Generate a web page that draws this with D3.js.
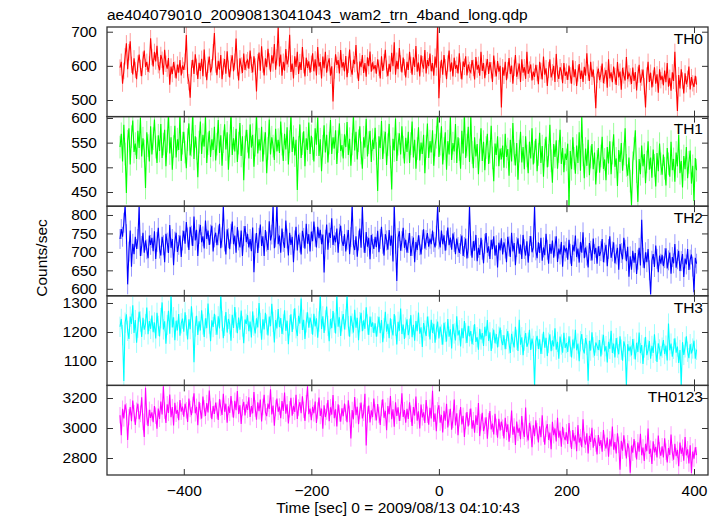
<!DOCTYPE html>
<html><head><meta charset="utf-8">
<script src="https://cdn.jsdelivr.net/npm/d3@7"></script>
<style>
body{margin:0;background:#fff}
svg{display:block}
text{font-family:"Liberation Sans",Arial,Helvetica,sans-serif;fill:#000}
</style></head><body>
<svg id="chart" width="718" height="516"></svg>
<script>
// ---------------- data ----------------
const title = "ae404079010_20090813041043_wam2_trn_4band_long.qdp";
const xLabel = "Time [sec] 0 = 2009/08/13 04:10:43";
const yLabel = "Counts/sec";
const bandNames = ["TH0", "TH1", "TH2", "TH3", "TH0123"];
const tStart = -500, tStep = 2;   // bin start time and bin width [sec]

const th0 = [
595,612,548,585,628,666,590,640,672,603,575,622,588,561,607,633,594,570,618,645,597,612,582,604,681,
626,598,641,613,659,602,587,632,618,574,647,606,592,623,545,598,576,611,589,563,604,580,617,572,601,
588,612,690,571,552,507,593,618,576,634,597,562,609,585,621,570,648,592,558,603,627,581,596,640,696,
604,573,615,589,632,561,598,620,577,643,592,566,608,631,584,612,680,595,557,622,601,579,636,588,610,
617,592,645,603,581,628,598,525,611,639,586,657,604,572,622,596,650,613,583,631,607,664,589,625,712,
598,633,571,612,586,649,604,620,691,582,607,563,628,597,641,576,611,588,655,602,569,624,594,613,580,
606,637,584,619,572,655,598,611,563,627,593,641,580,608,622,571,599,496,586,634,603,617,578,646,595,
611,584,629,567,603,648,592,574,618,605,661,587,556,613,596,632,579,608,568,625,599,642,583,610,590,
602,577,619,594,563,628,585,611,647,592,570,606,583,638,599,669,574,615,590,652,607,581,624,596,566,
612,588,641,603,574,625,597,658,583,610,569,631,605,592,646,578,617,599,636,584,608,571,627,595,722,
505,589,618,574,632,596,561,607,645,583,610,569,624,591,603,578,637,586,560,613,597,628,572,604,588,
581,617,594,560,626,589,603,571,641,585,608,564,597,620,576,611,587,553,630,592,569,614,583,600,478,
596,571,612,558,587,623,576,601,548,594,632,568,585,607,553,619,580,596,562,641,577,589,604,557,583,
568,603,579,546,612,585,560,627,574,593,541,588,619,566,581,600,553,635,577,562,596,584,549,608,571,
583,559,601,572,548,616,567,590,541,578,605,562,586,553,597,571,637,580,556,612,568,589,545,476,574,
592,558,576,607,549,571,588,536,619,563,581,552,598,570,544,611,566,583,530,594,572,557,626,561,578,
569,547,595,556,582,528,574,603,551,566,589,540,478,572,612,553,580,537,563,596,548,575,521,590,558,
571,543,586,552,608,539,565,527,581,556,641,548,468,573,534,590,557,519,578,546,562,598,531,567,549,
538,571,545];

const th1 = [
541,568,512,586,527,448,553,579,506,562,595,531,548,517,574,539,601,522,559,533,458,571,544,512,583,
526,558,597,541,509,565,533,588,519,547,576,502,553,610,528,561,495,542,584,520,557,535,606,513,549,
572,531,498,556,589,524,545,611,517,563,538,480,551,593,527,566,542,604,509,548,574,521,557,535,582,
514,547,596,529,565,503,552,587,536,571,495,544,613,525,559,532,578,511,549,590,523,563,474,541,576,
553,518,587,540,566,501,545,609,528,557,534,582,512,549,571,488,538,597,526,561,543,515,578,532,556,
529,593,547,513,568,536,581,506,552,605,531,562,524,556,454,540,587,519,548,573,502,559,535,591,527,
564,538,512,579,546,601,523,557,492,543,585,530,566,510,549,596,527,561,538,575,507,552,589,533,545,
518,567,541,592,525,558,503,547,606,534,572,516,554,583,529,497,561,540,598,522,550,574,511,556,537,
580,528,452,563,539,594,517,551,572,505,546,588,521,455,558,534,599,513,547,569,526,583,541,508,560,
531,572,509,548,593,520,556,497,538,581,514,550,527,566,488,542,589,519,553,530,575,503,545,561,612,
521,547,583,506,538,571,495,553,526,604,515,549,532,588,509,561,536,497,574,528,610,519,545,582,511,
603,530,498,561,522,547,486,535,579,513,552,494,540,568,507,531,584,519,472,548,525,563,502,538,516,
544,499,568,521,537,483,556,512,590,527,504,549,475,533,572,510,541,496,563,523,488,552,518,579,506,
531,558,492,526,570,509,543,481,535,562,500,524,586,513,469,547,521,555,497,532,576,507,539,490,528,
515,548,421,533,496,561,518,487,544,509,571,493,602,525,478,538,503,556,484,521,547,496,530,465,512,
539,489,523,562,497,516,474,541,508,553,486,529,567,501,518,462,535,511,549,493,527,579,504,483,520,
472,423,509,538,575,491,430,517,486,544,502,527,468,511,553,495,520,479,536,504,461,529,492,548,507,
485,526,498,463,539,507,481,552,494,517,471,530,502,566,488,513,459,523,496,541,478,510,534,467,503,
432,519,494];

const th2 = [
735,762,741,779,826,748,612,701,758,660,722,694,741,708,735,823,689,716,752,698,731,707,683,744,719,
738,702,756,681,727,765,709,690,741,718,672,749,725,697,773,711,735,664,728,752,700,719,744,686,731,
757,722,781,739,705,768,744,716,796,731,760,689,748,773,726,742,709,785,735,758,719,747,771,701,739,
752,718,745,776,710,739,825,728,693,761,737,707,749,782,721,744,698,767,731,712,758,689,743,770,726,
749,712,735,702,766,645,723,751,697,738,774,716,742,689,759,728,705,783,731,747,824,710,739,828,721,
744,698,763,727,711,785,736,690,752,719,741,672,731,768,704,747,725,693,757,738,709,776,722,748,701,
755,729,782,741,712,768,737,760,721,747,644,733,774,706,752,738,791,719,744,726,763,698,749,771,730,
716,748,701,733,759,694,740,827,719,705,742,687,731,763,711,824,725,697,754,714,738,680,746,722,708,
741,713,757,699,735,768,722,690,748,731,706,759,717,744,674,826,722,621,738,756,703,729,765,711,733,
698,724,751,689,716,739,672,727,705,745,718,693,733,761,709,732,751,714,736,721,758,727,712,744,825,
734,712,758,721,745,703,731,766,718,739,706,750,727,694,736,713,697,721,744,689,713,736,682,710,826,
717,684,729,703,746,675,711,692,738,706,669,722,751,698,715,681,733,707,742,690,718,658,725,704,737,
693,726,709,672,741,715,686,752,701,724,664,713,737,695,720,681,746,708,690,729,671,716,743,699,712,
825,704,683,726,697,738,676,712,691,749,706,668,721,695,731,684,715,742,673,709,693,727,660,718,701,
711,679,733,695,662,719,701,744,686,709,671,727,698,753,683,712,690,658,724,703,677,736,694,711,668,
715,689,702,735,672,698,719,661,708,742,684,701,726,669,693,711,652,721,697,680,738,706,675,714,633,
688,652,703,671,697,640,679,711,663,787,684,656,699,672,708,650,585,676,694,659,717,681,645,690,668,
692,661,683,710,655,677,698,641,686,669,721,657,680,703,648,675,694,632,682,666,708,651,679,693,660,
591,684,668];

const th3 = [
1218,1245,1189,1031,1232,1261,1204,1176,1253,1228,1292,1197,1241,1163,1215,1270,1236,1183,1249,1208,1227,1284,1192,1238,1211,
1257,1199,1233,1178,1266,1221,1185,1248,1302,1209,1237,1160,1224,1273,1194,1328,1216,1251,1172,1239,1205,1262,1187,1230,1246,
1201,1268,1223,1174,1244,1210,1289,1232,1096,1219,1256,1190,1237,1205,1275,1226,1183,1247,1213,1298,1229,1168,1240,1217,1263,
1225,1191,1254,1212,1330,1238,1179,1221,1269,1198,1245,1227,1170,1259,1214,1286,1233,1196,1250,1208,1274,1219,1161,1243,1228,
1258,1203,1236,1181,1271,1222,1195,1247,1216,1300,1231,1173,1244,1209,1266,1226,1188,1253,1220,1297,1235,1164,1241,1212,1279,
1217,1248,1193,1226,1275,1204,1239,1158,1223,1261,1200,1244,1282,1213,1186,1256,1229,1315,1207,1242,1176,1233,1268,1215,1250,
1228,1191,1263,1219,1247,1180,1236,1329,1210,1254,1197,1240,1288,1221,1168,1245,1213,1272,1232,1195,1326,1218,1251,1186,1237,
1262,1209,1243,1326,1220,1184,1256,1229,1198,1277,1215,1249,1172,1234,1266,1203,1240,1211,1285,1226,1190,1253,1218,1233,1197,
1230,1184,1219,1252,1196,1241,1165,1213,1270,1201,1228,1179,1247,1210,1188,1262,1222,1157,1235,1204,1281,1193,1226,1176,1215,
1244,1189,1211,1258,1182,1225,1170,1238,1203,1267,1194,1216,1148,1231,1205,1186,1253,1219,1174,1242,1197,1228,1163,1209,1236,
1178,1219,1191,1156,1232,1200,1167,1245,1184,1209,1143,1227,1195,1171,1254,1188,1206,1150,1213,1179,1238,1196,1162,1221,1185,
1203,1158,1190,1227,1166,1182,1139,1211,1174,1196,1152,1218,1186,1241,1169,1199,1135,1178,1208,1161,1193,1147,1184,1215,1172,
1155,1189,1141,1176,1203,1160,1128,1194,1167,1147,1218,1173,1135,1242,1156,1182,1120,1170,1196,1149,1163,1208,1138,1177,1152,
1010,1168,1187,1142,1175,1124,1159,1201,1146,1180,1117,1163,1192,1134,1171,1150,1213,1139,1166,1108,1184,1157,1129,1197,1145,
1162,1131,1185,1150,1112,1174,1143,1208,1137,1160,1099,1168,1193,1141,1126,1179,1155,1032,1170,1136,1199,1147,1118,1164,1152,
1138,1172,1116,1157,1190,1133,1151,1095,1166,1142,1204,1128,1160,1112,1179,1146,1123,1185,1139,1101,1168,1149,1015,1158,1134,
1150,1119,1176,1142,1105,1163,1131,1198,1127,1155,1090,1146,1183,1120,1138,1169,1108,1152,1128,1192,1135,1097,1161,1140,1117,
1146,1172,1124,1153,1102,1229,1137,1160,1115,1142,1178,1129,1150,1093,1138,1016,1165,1121,1147,1185,1132,1110,1158,1126,1143,
1170,1108,1139];

const th0123 = [
3085,2952,3128,3064,3157,3110,2921,3072,3139,3046,3183,3098,3021,3115,3162,3058,3094,3205,3041,2940,3268,3076,3013,3121,3067,
3104,3038,3147,3082,2995,3129,3061,3176,3090,3278,3116,3034,3158,3101,3223,3072,3139,3017,3168,3095,3120,3052,3186,3109,3143,
3075,3162,3118,3041,3197,3127,3086,3154,3232,3098,3141,3019,3175,3112,3063,3209,3131,3080,3166,3104,3250,3123,3058,3147,3094,
3170,3116,3054,3192,3135,3087,3228,3109,3162,3035,3144,3101,3213,3126,3069,3181,3119,3246,3093,3152,3027,3137,3175,3084,3158,
3121,3204,3073,3146,3098,3239,3130,3055,3171,3112,3189,3043,3140,3221,3105,3079,3163,3127,3258,3091,3150,3016,3133,3197,3108,
3143,3066,3179,3114,3237,3096,3158,3031,3125,3201,3082,3148,3107,3222,3060,3136,3173,3099,3211,3121,3047,3165,3278,3092,3130,
3052,3141,3098,3176,3034,3117,3203,3080,3129,2996,3152,3073,3110,3187,3045,3138,3089,3220,3066,3124,3011,3158,3097,3042,3131,
3079,3163,3102,3038,3185,3094,2931,3120,3058,3207,3085,3142,3026,3113,3170,3064,3101,3228,2883,3090,3149,3037,3118,3073,3196,
3104,3050,3159,3087,3021,3133,3191,3068,3115,2985,3146,3092,3213,3059,3125,3008,3171,3081,3138,3047,3102,3232,3074,3119,3036,
3128,3061,3172,3095,3014,3140,3083,3209,3049,3112,2997,3156,3071,3104,3033,3187,3088,3022,3135,3064,3248,3041,3097,2978,3118,
3152,3036,3087,2971,3114,3049,3162,3003,3071,3128,2989,3055,3190,3017,3098,2952,3066,3139,3024,3081,2940,3047,3106,3011,3073,
3129,2995,3052,2968,3084,3021,3167,2946,3038,3102,2979,3015,3071,2928,3046,3113,2990,3029,2957,3094,3008,2936,3061,2983,3042,
3002,2931,3068,2974,3025,2908,2989,3117,2956,3010,2887,3043,2968,3001,2925,3079,2982,2941,3136,2963,2917,3034,2990,2872,3018,
2946,3051,2979,2903,3012,2938,3084,2961,2889,2995,3026,2920,2970,2858,3041,2952,2997,2911,3068,2935,2982,2876,3008,2944,2919,
2971,2894,3033,2926,2860,2987,2912,2951,2845,3019,2903,2938,2872,3058,2921,2889,2964,2830,2948,2907,3001,2868,2935,2897,2824,
2953,2881,2919,2842,2986,2901,2863,2937,2808,2924,2877,3010,2856,2906,2831,2965,2888,2722,2915,2849,2952,2870,2797,2898,2861,
2702,2883,2835,2927,2858,2790,2904,2842,2961,2819,2870,2781,2895,2846,2996,2828,2862,2760,2911,2837,2874,2803,2949,2851,2815,
2878,2804,2931,2842,2770,2866,2821,2957,2836,2789,2894,2812,2855,2745,2903,2828,2869,2782,2940,2817,2858,2763,2885,2701,2843,
2796,2872,2819];

const errors = [24, 23, 27, 35, 55];   // 1-sigma error per bin, per band
const xTickValues = [-400, -200, 0, 200, 400];
const yTickValues = [[500,600,700],[450,500,550,600],[600,650,700,750,800],[1100,1200,1300],[2800,3000,3200]];

// ---------------- layout / style ----------------
const series = [th0, th1, th2, th3, th0123];
const colors = ["#ff0000", "#00ff00", "#0000ff", "#00ffff", "#ff00ff"];
const yDomains = [[451.4,713.8],[421.2,602.8],[581,823.8],[1015.9,1324.8],[2686.7,3284]];
const minorSteps = [20, 10, 10, 20, 100];
const L = 107, R = 708, T = 27, B = 475;
const ph = (B - T) / series.length;
const FS = 15.5;
const axisColor = "#333";

const svg = d3.select("#chart");
const x = d3.scaleLinear().domain([-520.4, 421.95]).range([L, R]);
const xMinor = d3.range(-500, 401, 100);
const defs = svg.append("defs");

series.forEach((vals, i) => {
  const y0 = T + i * ph, y1 = y0 + ph;
  const y = d3.scaleLinear().domain(yDomains[i]).range([y1, y0]);
  const g = svg.append("g");
  defs.append("clipPath").attr("id", "clip" + i)
    .append("rect").attr("x", L).attr("y", y0).attr("width", R - L).attr("height", ph);

  const pts = vals.map((v, k) => ({t: tStart + k * tStep, v}));
  const e = errors[i];
  const plot = g.append("g").attr("clip-path", `url(#clip${i})`);
  // error bars
  plot.append("path")
    .attr("d", pts.map(p => `M${x(p.t).toFixed(2)},${y(p.v - e).toFixed(2)}V${y(p.v + e).toFixed(2)}`).join(""))
    .attr("stroke", colors[i]).attr("stroke-opacity", 0.4).attr("stroke-width", 1).attr("fill", "none");
  // data line
  plot.append("path")
    .attr("d", d3.line().x(p => x(p.t)).y(p => y(p.v))(pts))
    .attr("stroke", colors[i]).attr("stroke-width", 1.1).attr("fill", "none");

  // y axes
  const [d0, d1] = yDomains[i];
  const yMinor = d3.range(Math.ceil(d0 / minorSteps[i]) * minorSteps[i], d1, minorSteps[i]);
  const left = g.append("g").attr("transform", `translate(${L},0)`);
  left.call(d3.axisLeft(y).tickValues(yMinor).tickSizeInner(-3).tickSizeOuter(0).tickFormat(""));
  left.call(d3.axisLeft(y).tickValues(yTickValues[i]).tickSizeInner(-6).tickSizeOuter(0).tickPadding(10).tickFormat(d3.format("d")));
  const right = g.append("g").attr("transform", `translate(${R},0)`);
  right.call(d3.axisRight(y).tickValues(yMinor).tickSizeInner(-3).tickSizeOuter(0).tickFormat(""));
  right.call(d3.axisRight(y).tickValues(yTickValues[i]).tickSizeInner(-6).tickSizeOuter(0).tickFormat(""));
  // x axes (top and bottom of each panel)
  const top = g.append("g").attr("transform", `translate(0,${y0})`);
  top.call(d3.axisTop(x).tickValues(xMinor).tickSizeInner(-4).tickSizeOuter(0).tickFormat(""));
  top.call(d3.axisTop(x).tickValues(xTickValues).tickSizeInner(-6).tickSizeOuter(0).tickFormat(""));
  const bot = g.append("g").attr("transform", `translate(0,${y1})`);
  bot.call(d3.axisBottom(x).tickValues(xMinor).tickSizeInner(-4).tickSizeOuter(0).tickFormat(""));
  bot.call(d3.axisBottom(x).tickValues(xTickValues).tickSizeInner(-6).tickSizeOuter(0).tickPadding(10)
    .tickFormat(i === series.length - 1 ? (d => d < 0 ? "\u2212" + Math.abs(d) : String(d)) : ""));

  g.selectAll(".domain").remove();
  g.selectAll(".tick line").attr("stroke", axisColor).attr("stroke-width", 1);
  g.selectAll(".tick text").attr("font-size", FS).attr("font-family", '"Liberation Sans",Arial,sans-serif').attr("fill", "#000");

  g.append("rect").attr("x", L).attr("y", y0).attr("width", R - L).attr("height", ph)
    .attr("fill", "none").attr("stroke", axisColor).attr("stroke-width", 1.3);

  g.append("text").attr("x", 703).attr("y", y0 + 17).attr("text-anchor", "end")
    .attr("font-size", FS).text(bandNames[i]);
});

svg.append("text").attr("x", 107).attr("y", 20).attr("font-size", FS).text(title);
svg.append("text").attr("transform", "translate(47,258) rotate(-90)").attr("text-anchor", "middle")
  .attr("font-size", FS).text(yLabel);
svg.append("text").attr("x", 398).attr("y", 513).attr("text-anchor", "middle")
  .attr("font-size", FS).text(xLabel);
</script>
</body></html>
